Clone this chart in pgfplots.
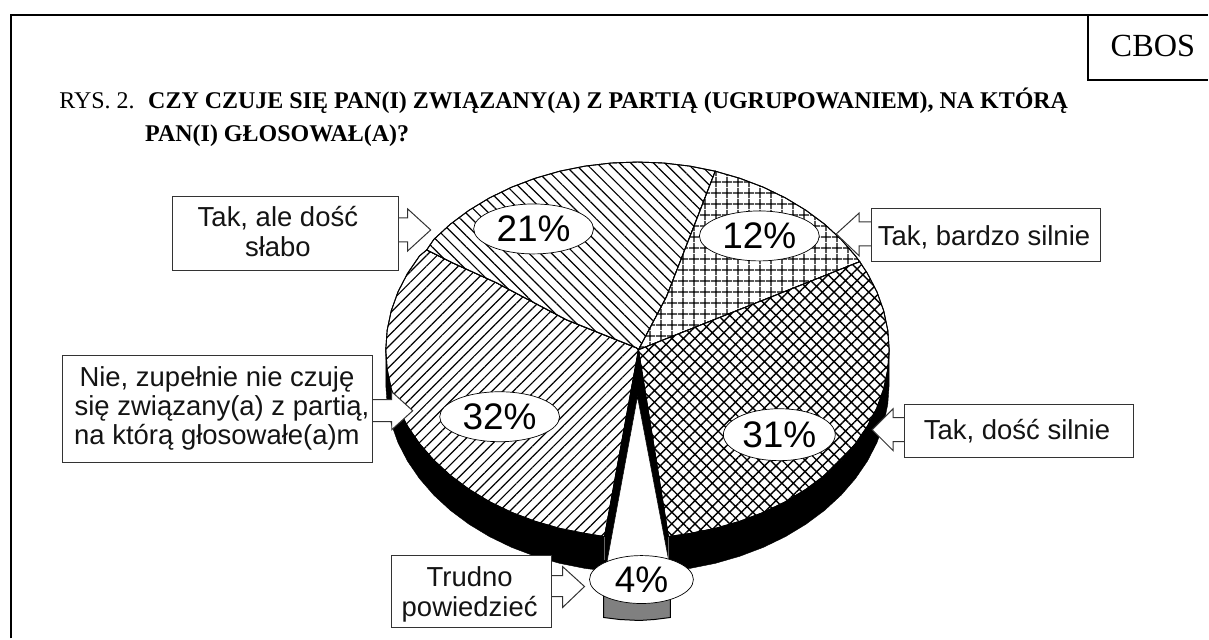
\documentclass[border=0pt]{standalone}
\usepackage{pgfplots}
\pgfplotsset{compat=1.18}
\usepackage{fontspec}
\setmainfont{Liberation Serif}
\newfontfamily\arial{Liberation Sans}
\usetikzlibrary{patterns.meta,shapes.geometric}
\tikzset{
  lab/.style={inner sep=0pt,outer sep=0pt,anchor=base,font=\fontsize{27.5}{27.5}\selectfont\arial,text=black!92},
  pct/.style={draw=black,fill=white,ellipse,line width=0.7pt,inner sep=0pt,font=\fontsize{37}{37}\selectfont\arial},
}
\pgfplotsset{
  box/.style={draw=black!80,fill=white,line width=1pt},
  slice/.style={draw=black,fill=white,line width=0.9pt},
}
\begin{document}
\begin{tikzpicture}
\begin{axis}[
  hide axis, scale only axis, width=1209pt, height=639pt,
  xmin=0, xmax=1209, ymin=0, ymax=639, y dir=reverse,
  enlargelimits=false, clip=false,
]
% frame
\addplot[draw=white,fill=white] coordinates {(0,0)(1209,0)(1209,639)(0,639)} --cycle;
\addplot[black,line width=2.4pt] coordinates {(11,639)(11,15)(1209,15)};
\addplot[black,line width=2pt] coordinates {(1089,15)(1089,80)(1209,80)};
\node[anchor=base,inner sep=0pt,font=\fontsize{32.3}{32.3}\selectfont] at (axis cs:1154,56) {CBOS};
% title
\node[anchor=base west,inner sep=0pt,font=\fontsize{24}{24}\selectfont] at (axis cs:59,108) {RYS. 2.};
\node[anchor=base west,inner sep=0pt,font=\fontsize{24}{24}\selectfont\bfseries] at (axis cs:148,108) {CZY CZUJE SIĘ PAN(I) ZWIĄZANY(A) Z PARTIĄ (UGRUPOWANIEM), NA KTÓRĄ};
\node[anchor=base west,inner sep=0pt,font=\fontsize{24}{24}\selectfont\bfseries] at (axis cs:145,141) {PAN(I) GŁOSOWAŁ(A)?};
% grey block of the pulled-out slice
\addplot[draw=black,fill=black!50,line width=1pt] coordinates {(604,590)(604,618)(620,620)(640,621)(655,620)(671,618)(671,590)} --cycle;
% side of the pie
\addplot[black,fill=black] coordinates {(386,350)(386,385)(387.4,404.6)(391.5,424.1)(398.3,443.1)(407.8,461.5)(419.8,479)(434.1,495.5)(450.7,510.8)(469.4,524.7)(489.9,537.1)(512,547.8)(535.5,556.7)(560.1,563.8)(585.6,568.9)(611.7,572)(638,573)(664.3,572)(690.4,568.9)(715.9,563.8)(740.5,556.7)(764,547.8)(786.1,537.1)(806.6,524.7)(825.3,510.8)(841.9,495.5)(856.2,479)(868.2,461.5)(877.7,443.1)(884.5,424.1)(888.6,404.6)(890,385)(890,350)} --cycle;
% 32 %
\addplot[slice,postaction={pattern={Lines[angle=45,distance=7.5pt,line width=1.2pt]}}] coordinates {(639,350)(605,537)(585.6,533.9)(560.1,528.8)(535.5,521.7)(512,512.8)(489.9,502.1)(469.4,489.7)(450.7,475.8)(434.1,460.5)(419.8,444)(407.8,426.5)(398.3,408.1)(391.5,389.1)(387.4,369.6)(386,350)(387.4,330.4)(391.5,310.9)(398.3,291.9)(407.8,273.5)(419.8,256)(427,250)(453,263)(497,283)(567,320)(637,348)} --cycle;
% 21 %
\addplot[slice,postaction={pattern={Lines[angle=-45,distance=8pt,line width=1.2pt]}}] coordinates {(639,350)(637,348)(567,320)(497,283)(453,263)(427,250)(434.1,239.5)(450.7,224.2)(469.4,210.3)(489.9,197.9)(512,187.2)(535.5,178.3)(560.1,171.2)(585.6,166.1)(611.7,163)(638,162)(664.3,163)(690.4,166.1)(715.9,171.2)(697,220)(667,297)} --cycle;
% 12 %
\addplot[slice,postaction={pattern={Hatch[angle=0,distance=10.5pt,line width=1.1pt]}}] coordinates {(639,350)(667,297)(697,220)(715.9,171.2)(740.5,178.3)(764,187.2)(786.1,197.9)(806.6,210.3)(825.3,224.2)(841.9,239.5)(856.2,256)(860.5,261.8)(747,307)} --cycle;
% 31 %
\addplot[slice,postaction={pattern={Hatch[angle=45,distance=8.2pt,line width=1.4pt]}}] coordinates {(639,350)(747,307)(860.5,261.8)(868.2,273.5)(877.7,291.9)(884.5,310.9)(888.6,330.4)(890,350)(888.6,369.6)(884.5,389.1)(877.7,408.1)(868.2,426.5)(856.2,444)(841.9,460.5)(825.3,475.8)(806.6,489.7)(786.1,502.1)(764,512.8)(740.5,521.7)(715.9,528.8)(690.4,533.9)(669,537)} --cycle;
% 4 % slice
\addplot[black,fill=black] coordinates {(639,350)(605,537)(605,565)(669,565)(669,537)} --cycle;
\addplot[draw=black,fill=white,line width=0.5pt] coordinates {(638,397)(607,565)(670,565)} --cycle;
\addplot[black!60,line width=0.8pt] coordinates {(605,537)(605,560)};
\addplot[black!60,line width=0.8pt] coordinates {(669,537)(669,560)};
% arrows
\addplot[box] coordinates {(395,218)(408,218)(408,209)(431,230)(408,251)(408,242)(395,242)} --cycle;
\addplot[box] coordinates {(880,222)(860,222)(860,213)(837,234)(860,256)(860,246)(880,246)} --cycle;
\addplot[box] coordinates {(915,418)(894,418)(894,409)(873,430)(894,451)(894,442)(915,442)} --cycle;
\addplot[box] coordinates {(365,400)(392,400)(392,392)(413,411)(392,430)(392,422)(365,422)} --cycle;
\addplot[box] coordinates {(540,576)(563,576)(563,567)(585,587)(563,608)(563,597)(540,597)} --cycle;
% boxes
\addplot[box] coordinates {(172,197)(399,197)(399,271)(172,271)} --cycle;
\addplot[box] coordinates {(872,209)(1102,209)(1102,262)(872,262)} --cycle;
\addplot[box] coordinates {(905,405)(1135,405)(1135,458)(905,458)} --cycle;
\addplot[box] coordinates {(62,356)(373,356)(373,463)(62,463)} --cycle;
\addplot[box] coordinates {(392,556)(552,556)(552,628)(392,628)} --cycle;
\node[lab] at (axis cs:278,227) {Tak, ale dość};
\node[lab] at (axis cs:278,257) {słabo};
\node[lab] at (axis cs:985,246) {Tak, bardzo silnie};
\node[lab] at (axis cs:1018,440) {Tak, dość silnie};
\node[lab] at (axis cs:217,387) {Nie, zupełnie nie czuję};
\node[lab] at (axis cs:222,416) {się związany(a) z partią,};
\node[lab] at (axis cs:217,445) {na którą głosowałe(a)m};
\node[lab] at (axis cs:470,587) {Trudno};
\node[lab] at (axis cs:470,617) {powiedzieć};
% percentage labels
\node[pct,minimum width=120pt,minimum height=50pt] at (axis cs:534,229) {21\%};
\node[pct,minimum width=120pt,minimum height=50pt] at (axis cs:760,236) {12\%};
\node[pct,minimum width=120pt,minimum height=50pt] at (axis cs:500,417) {32\%};
\node[pct,minimum width=112pt,minimum height=52pt] at (axis cs:780,435) {31\%};
\node[pct,minimum width=104pt,minimum height=48pt] at (axis cs:642,580) {4\%};
\end{axis}
\end{tikzpicture}
\end{document}
